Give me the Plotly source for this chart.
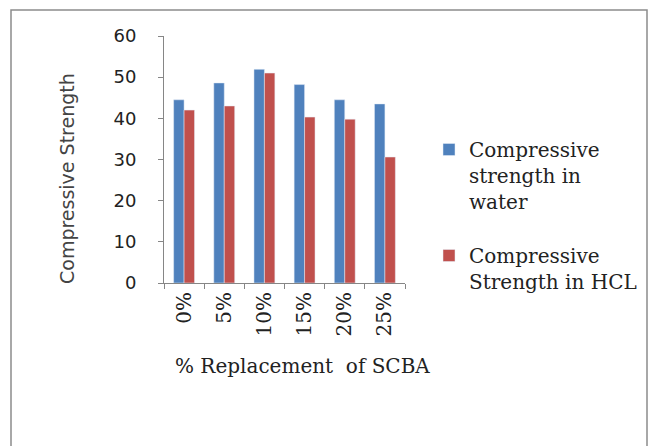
import plotly.graph_objects as go

# data
categories = ["0%", "5%", "10%", "15%", "20%", "25%"]
water = [44.5, 48.6, 51.9, 48.2, 44.5, 43.5]
hcl = [42.0, 43.0, 51.0, 40.3, 39.8, 30.6]
y_ticks = [0, 10, 20, 30, 40, 50, 60]

W, H = 650, 446
L, R, T, B = 164, 405, 36, 283  # plot area in pixels


def px(x):
    return (x - L) / (R - L)


def py(y):
    return (B - y) / (B - T)


fig = go.Figure()
fig.add_trace(go.Bar(
    x=categories, y=water,
    name="Compressive<br>strength in<br>water",
    marker_color="#4F81BD", legendgroup="a"
))
fig.add_trace(go.Bar(
    x=categories, y=hcl,
    name="Compressive<br>Strength in HCL",
    marker_color="#C0504D", legendgroup="b"
))

fig.update_layout(
    width=W, height=H,
    margin=dict(l=L, r=W - R, t=T, b=H - B, autoexpand=False),
    paper_bgcolor="white", plot_bgcolor="white",
    barmode="group", bargap=0.48, bargroupgap=0,
    font=dict(family="DejaVu Serif", color="#222222"),
    legend=dict(
        x=px(429), y=py(130), xanchor="left", yanchor="top",
        valign="top", tracegroupgap=25,
        font=dict(family="DejaVu Serif", size=20, color="#222222"),
        bgcolor="rgba(0,0,0,0)"
    ),
    showlegend=True
)

fig.update_xaxes(
    showline=True, linecolor="#868686", linewidth=1,
    ticks="outside", ticklen=5, tickcolor="#868686", tickson="boundaries",
    tickangle=-90, tickfont=dict(family="DejaVu Serif", size=20, color="#222222"),
    showgrid=False
)
fig.update_yaxes(
    range=[0, 60], tickvals=y_ticks,
    showline=True, linecolor="#868686", linewidth=1,
    ticks="outside", ticklen=5, tickcolor="#868686",
    tickfont=dict(family="DejaVu Sans", size=18, color="#222222"),
    ticklabelstandoff=18,
    showgrid=False, zeroline=False
)

# axis titles
fig.add_annotation(
    text="% Replacement  of SCBA", xref="paper", yref="paper",
    x=px(302), y=py(380), showarrow=False,
    font=dict(family="DejaVu Serif", size=20, color="#222222")
)
fig.add_annotation(
    text="Compressive Strength", xref="paper", yref="paper",
    x=px(54), y=py(179), showarrow=False, textangle=-90,
    font=dict(family="DejaVu Sans", size=19, color="#444444")
)

# outer chart border
fig.add_shape(
    type="rect", xref="paper", yref="paper",
    x0=px(11), x1=px(647), y0=py(455), y1=py(10),
    line=dict(color="#8c8c8c", width=1.5), layer="below"
)

# drop the page's default body margin so the figure sits at the window corner
fig.write_html("out.html", config={"displayModeBar": False},
               post_script="document.body.style.margin='0px';")
